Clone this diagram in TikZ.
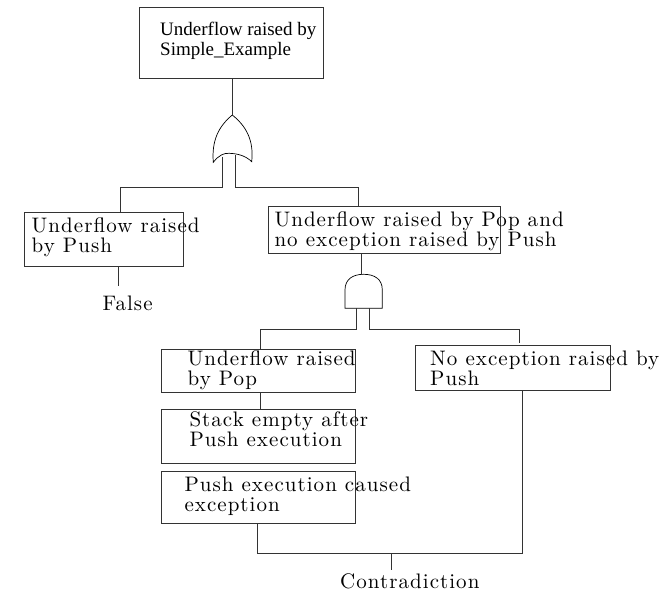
\documentclass[tikz,border=0pt]{standalone}
\usepackage{fontspec}
\newfontfamily\tnr{Liberation Serif}
\newfontfamily\lmten{lmroman10-regular}[Extension=.otf, LetterSpace=5]
\tikzset{
  ln/.style={draw=black!80, line width=0.8pt},
  box/.style={draw=black!80, line width=0.9pt, inner sep=0pt, minimum width=194pt},
  lm/.style={font=\lmten\fontsize{21}{20}\selectfont, inner sep=0pt, anchor=base west, align=left},
  tm/.style={font=\tnr\fontsize{19}{20}\selectfont, inner sep=0pt, anchor=base west, align=left},
  gate/.style={draw=black, line width=0.7pt, fill=white}
}
\begin{document}
\begin{tikzpicture}[x=1pt,y=-1pt]
\useasboundingbox (0,0) rectangle (672,595);
% boxes
\node[box, minimum width=184pt, minimum height=71pt] (top) at (231.3,42.8) {};
\node[box, minimum width=159.3pt, minimum height=54.4pt] (b1) at (103.7,239.5) {};
\node[box, minimum width=231.7pt, minimum height=46.6pt] (b2) at (384.2,230) {};
\node[box, minimum height=43.3pt] (b3) at (258.7,370.7) {};
\node[box, minimum height=54.7pt] (b4) at (258.7,436.3) {};
\node[box, minimum height=51.6pt] (b5) at (258.7,497.5) {};
\node[box, minimum width=195pt, minimum height=45pt] (b6) at (512.5,367.5) {};
% texts (anchored at the baseline of the last line)
\node[tm] (ttop) at (160,55) {Underflow raised by\\Simple\_Example};
\node[lm] (t1) at (31.5,252.3) {Underflow raised\\by Push};
\node[lm] (t2) at (274.3,246.7) {Underflow raised by Pop and\\no exception raised by Push};
\node[lm] (t3) at (187.5,385) {Underflow raised\\by Pop};
\node[lm] (t4) at (189.3,446) {Stack empty after\\Push execution};
\node[lm] (t5) at (184.3,511.7) {Push execution caused\\exception};
\node[lm] (t6) at (430,385) {No exception raised by\\Push};
\node[lm] (false) at (102.3,310.7) {False};
\node[lm] (contra) at (340,588.3) {Contradiction};
% OR gate
\coordinate (orTop) at (232.3,115);
\coordinate (orL) at (222.3,156.5);
\coordinate (orR) at (235.3,154.5);
\path[gate] (orTop) .. controls (219,126) and (211.5,140) .. (213.3,162.3)
  .. controls (219,155) and (224,153) .. (229,153.3)
  .. controls (238,153.5) and (246,156) .. (251.7,161.7)
  .. controls (254,140) and (246,126) .. (orTop) -- cycle;
% AND gate
\coordinate (andTop) at (361,274.5);
\coordinate (andL) at (356,308.3);
\coordinate (andR) at (369.3,308.3);
\path[gate] (345,308.3) -- (345,290) .. controls (345,279) and (353,274.3) .. (363.7,274.3)
  .. controls (374.4,274.3) and (382.3,279) .. (382.3,290) -- (382.3,308.3) -- cycle;
% connectors
\draw[ln] (orTop |- top.south) -- (orTop);
\draw[ln] (orL) -- (222.3,186.9) -| ([xshift=17pt]b1.north);
\draw[ln] (orR) -- (235.3,186.9) -| ([xshift=-26pt]b2.north);
\draw[ln] (andTop |- b2.south) -- (andTop);
\draw[ln] (andL) -- (356,329.3) -| ([xshift=1.3pt]b3.north);
\draw[ln] (andR) -- (369.3,329.3) -| ([xshift=6.8pt,yshift=1.7pt]b6.north);
\draw[ln] ([xshift=1.3pt]b3.south) -- ([xshift=1.3pt]b4.north);
\coordinate (fT) at (118.3,286);
\draw[ln] (fT |- b1.south) -- (fT);
\draw[ln] ([xshift=-1.4pt]b5.south) -- ++(0,30) coordinate (jl) -| ([xshift=10.3pt]b6.south);
\coordinate (cj) at (391,553.3);
\coordinate (cb) at (391,570);
\draw[ln] (cj) -- (cb);
\end{tikzpicture}
\end{document}
